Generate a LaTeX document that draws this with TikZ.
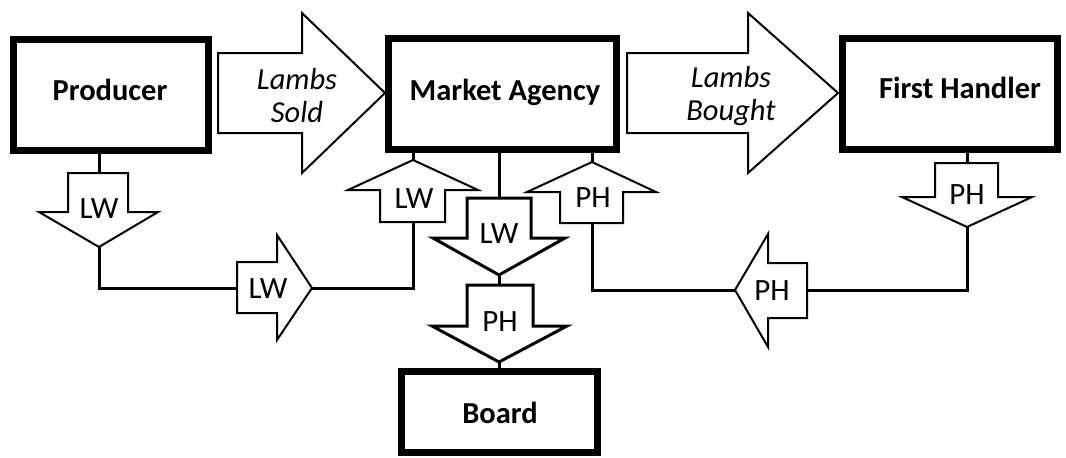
\documentclass[tikz,border=0pt]{standalone}
\usepackage{fontspec}
\setmainfont{Carlito}
\begin{document}
\begin{tikzpicture}[x=1pt,y=-1pt,
  box/.style={draw=black,line width=7pt,fill=white,inner sep=0pt},
  boxtext/.style={inner sep=0pt,font=\fontsize{30.5}{34}\selectfont\bfseries},
  fat/.style={draw=black,line width=2pt,fill=white,line join=miter},
  fatb/.style={draw=black,line width=3pt,fill=white,line join=miter},
  lab/.style={inner sep=0pt,font=\fontsize{31}{34}\selectfont},
  ital/.style={inner sep=0pt,align=center,font=\fontsize{30.5}{33}\selectfont\itshape},
  conn/.style={draw=black,line width=3pt}]
\useasboundingbox (0,0) rectangle (1066,458);
% boxes
\node[box,minimum width=195pt,minimum height=111pt] (prod) at (110.5,94.5) {};
\node[boxtext] (prodt) at (110,90) {Producer};
\node[box,minimum width=228pt,minimum height=111pt] (ma) at (502,93.5) {};
\node[boxtext] (mat) at (505,92) {Market Agency};
\node[box,minimum width=215pt,minimum height=111pt] (fh) at (949.5,93.5) {};
\node[boxtext] (fht) at (960,88) {First Handler};
\node[box,minimum width=196pt,minimum height=81pt] (board) at (499,411.5) {};
\node[boxtext] (boardt) at (500,413) {Board};
% big arrows
\draw[fat] (218,53)--(302,53)--(302,13)--(385,93)--(302,173)--(302,133)--(218,133)--cycle;
\node[ital] (sold) at (297,96) {Lambs\\Sold};
\draw[fat] (627,53)--(748,53)--(748,13)--(838,93)--(748,173)--(748,133)--(627,133)--cycle;
\node[ital] (bought) at (731,96) {Lambs\\Bought};
% coordinates
\coordinate (lw1t) at (99,173); \coordinate (lw1p) at (99,247);
\coordinate (lw2t) at (237,288); \coordinate (lw2p) at (312,288);
\coordinate (lw3t) at (413,222); \coordinate (lw3p) at (413,160);
\coordinate (lw4t) at (499,198); \coordinate (lw4p) at (499,275);
\coordinate (ph5t) at (499,285); \coordinate (ph5p) at (499,362);
\coordinate (ph6t) at (592,223); \coordinate (ph6p) at (592,162);
\coordinate (ph7t) at (807,290); \coordinate (ph7p) at (735,290);
\coordinate (ph8t) at (967,163); \coordinate (ph8p) at (967,227);
% connectors
\draw[conn] (prod.south -| lw1t) -- (lw1t);
\draw[conn] (lw1p) |- (lw2t);
\draw[conn] (lw2p) -| (lw3t);
\draw[conn] (lw3p) -- (ma.south -| lw3p);
\draw[conn] (ma.south -| lw4t) -- (lw4t);
\draw[conn] (lw4p) -- (ph5t);
\draw[conn] (ph5p) -- (board.north);
\draw[conn] (ma.south -| ph6p) -- (ph6p);
\draw[conn] (ph6t) |- (ph7p);
\draw[conn] (ph7t) -| (ph8p);
\draw[conn] (fh.south -| ph8t) -- (ph8t);
% small arrows
\draw[fat] (68,173)--(128,173)--(128,212)--(158,212)--(99,247)--(39,212)--(68,212)--cycle;
\node[lab] (l1) at (99,209) {LW};
\draw[fat] (237,262)--(277,262)--(277,235)--(312,288)--(277,340)--(277,313)--(237,313)--cycle;
\node[lab] (l2) at (268,289) {LW};
\draw[fat] (380,222)--(380,190)--(348,190)--(413,160)--(478,190)--(445,190)--(445,222)--cycle;
\node[lab] (l3) at (414,199) {LW};
\draw[fatb] (467,198)--(531,198)--(531,238)--(565,238)--(499,275)--(433,238)--(467,238)--cycle;
\node[lab] (l4) at (499,234) {LW};
\draw[fatb] (467,285)--(533,285)--(533,326)--(567,326)--(499,362)--(432,326)--(467,326)--cycle;
\node[lab] (l5) at (500,322) {PH};
\draw[fat] (560,223)--(560,192)--(527,192)--(592,162)--(656,192)--(623,192)--(623,223)--cycle;
\node[lab] (l6) at (593,198) {PH};
\draw[fat] (807,263)--(768,263)--(768,234)--(735,290)--(768,347)--(768,318)--(807,318)--cycle;
\node[lab] (l7) at (772,291) {PH};
\draw[fat] (935,163)--(998,163)--(998,197)--(1032,197)--(967,227)--(902,197)--(935,197)--cycle;
\node[lab] (l8) at (967,195) {PH};
\end{tikzpicture}
\end{document}
